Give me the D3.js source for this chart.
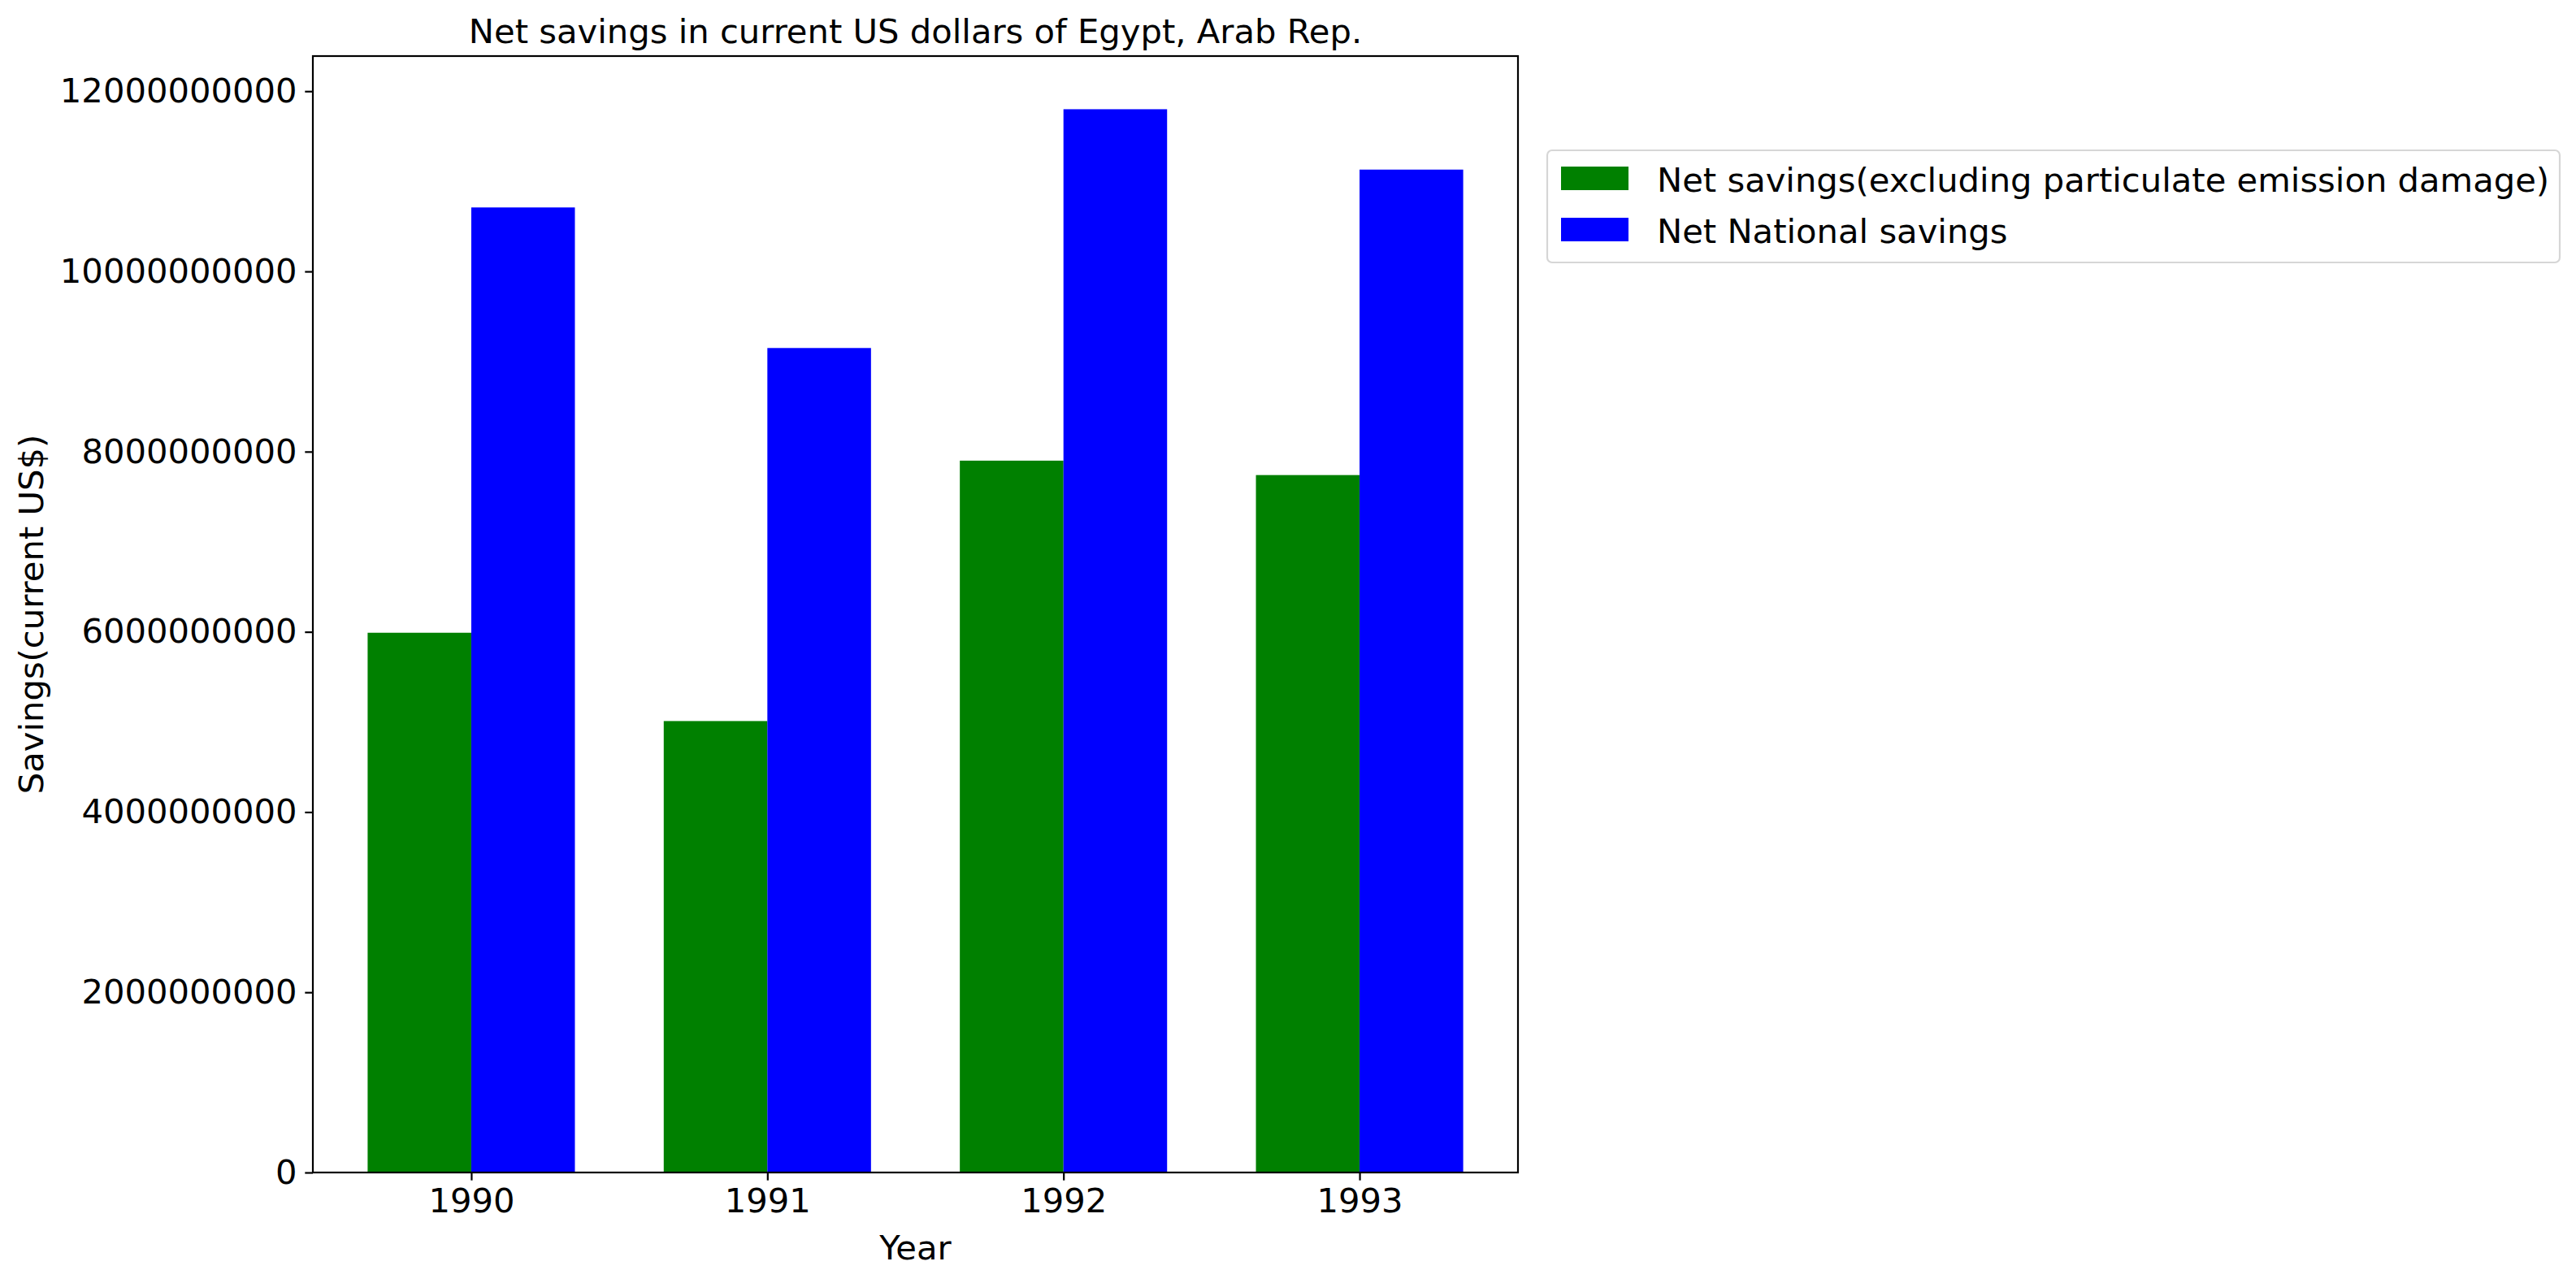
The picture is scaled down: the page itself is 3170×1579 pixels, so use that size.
<!DOCTYPE html>
<html>
<head>
<meta charset="utf-8">
<script src="https://cdn.jsdelivr.net/npm/d3@7"></script>
<style>
  body { margin: 0; background: #fff; }
  svg text { font-family: "DejaVu Sans", sans-serif; fill: #000; }
</style>
</head>
<body>
<svg id="chart" width="3170" height="1579"></svg>
<script>
// Chart data
const years = ['1990', '1991', '1992', '1993'];
const netSavingsExcl = [5.99e9, 5.01e9, 7.90e9, 7.74e9];
const netNationalSavings = [10.71e9, 9.15e9, 11.80e9, 11.13e9];
const yTicks = [0, 2e9, 4e9, 6e9, 8e9, 10e9, 12e9];
const seriesNames = ['Net savings(excluding particulate emission damage)', 'Net National savings'];
const seriesColors = ['green', 'blue'];

const width = 3170;
const height = 1579;
const plot = { left: 385, right: 1868, top: 69, bottom: 1443 };
const fontSize = 41.7;
const lineW = 2.2;
const barWidth = 0.35;

const svg = d3.select('#chart');

// x is a linear index scale like matplotlib, with 5% margins
const xMin = -barWidth, xMax = years.length - 1 + barWidth;
const pad = (xMax - xMin) * 0.05;
const x = d3.scaleLinear()
    .domain([xMin - pad, xMax + pad])
    .range([plot.left, plot.right]);

const yMax = d3.max(netNationalSavings.concat(netSavingsExcl)) * 1.05;
const y = d3.scaleLinear()
    .domain([0, yMax])
    .range([plot.bottom, plot.top]);

// Bars: green left of the tick, blue right of it
const series = [netSavingsExcl, netNationalSavings];
series.forEach((values, s) => {
    svg.append('g')
        .selectAll('rect')
        .data(values)
        .enter().append('rect')
        .attr('x', (d, i) => x(i + (s === 0 ? -barWidth : 0)))
        .attr('width', (d, i) => x(barWidth) - x(0))
        .attr('y', d => y(d))
        .attr('height', d => y(0) - y(d))
        .attr('fill', seriesColors[s]);
});

// Axes
const xAxis = d3.axisBottom(x)
    .tickValues(d3.range(years.length))
    .tickFormat(i => years[i])
    .tickSizeInner(9.7)
    .tickSizeOuter(0)
    .tickPadding(9.7);

const yAxis = d3.axisLeft(y)
    .tickValues(yTicks)
    .tickFormat(d3.format('d'))
    .tickSizeInner(9.7)
    .tickSizeOuter(0)
    .tickPadding(9.7);

const gx = svg.append('g')
    .attr('transform', `translate(0,${plot.bottom})`)
    .call(xAxis);
const gy = svg.append('g')
    .attr('transform', `translate(${plot.left},0)`)
    .call(yAxis);

[gx, gy].forEach(g => {
    g.select('.domain').remove();
    g.selectAll('.tick line').attr('stroke', '#000').attr('stroke-width', lineW);
    g.selectAll('.tick text')
        .style('font-size', fontSize + 'px')
        .style('font-family', '"DejaVu Sans", sans-serif')
        .attr('fill', '#000');
});

// Frame round the plot area
svg.append('rect')
    .attr('x', plot.left)
    .attr('y', plot.top)
    .attr('width', plot.right - plot.left)
    .attr('height', plot.bottom - plot.top)
    .attr('fill', 'none')
    .attr('stroke', '#000')
    .attr('stroke-width', lineW);

// Title and axis labels
svg.append('text')
    .attr('x', (plot.left + plot.right) / 2)
    .attr('y', 53)
    .attr('text-anchor', 'middle')
    .style('font-size', fontSize + 'px')
    .text('Net savings in current US dollars of Egypt, Arab Rep.');

svg.append('text')
    .attr('x', (plot.left + plot.right) / 2)
    .attr('y', 1550)
    .attr('text-anchor', 'middle')
    .style('font-size', fontSize + 'px')
    .text('Year');

svg.append('text')
    .attr('transform', `translate(53,${(plot.top + plot.bottom) / 2}) rotate(-90)`)
    .attr('text-anchor', 'middle')
    .style('font-size', fontSize + 'px')
    .text('Savings(current US$)');

// Legend
const legend = svg.append('g').attr('transform', 'translate(1904,185)');
legend.append('rect')
    .attr('x', 0)
    .attr('y', 0)
    .attr('width', 3150 - 1904)
    .attr('height', 138)
    .attr('rx', 6)
    .attr('fill', '#fff')
    .attr('stroke', '#d6d6d6')
    .attr('stroke-width', 2.2);

const items = legend.selectAll('g.item')
    .data(seriesNames)
    .enter().append('g')
    .attr('class', 'item')
    .attr('transform', (d, i) => `translate(17,${20 + i * 63})`);

items.append('rect')
    .attr('width', 83)
    .attr('height', 29)
    .attr('fill', (d, i) => seriesColors[i]);

items.append('text')
    .attr('x', 135 - 17)
    .attr('y', 30.5)
    .style('font-size', fontSize + 'px')
    .text(d => d);
</script>
</body>
</html>
